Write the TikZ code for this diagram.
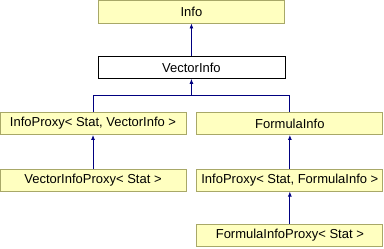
\documentclass[tikz,border=0pt]{standalone}
\usepackage{fontspec}
\setmainfont{Liberation Sans}
\usetikzlibrary{positioning,arrows.meta,calc}
\definecolor{classFill}{HTML}{FFFFC0}
\definecolor{classLine}{HTML}{A8A868}
\definecolor{edgeBlue}{HTML}{000080}
\tikzset{
    classbox/.style={draw=classLine,fill=classFill,line width=0.9pt,
        minimum width=6.54cm,minimum height=0.78cm,inner sep=0pt,
        align=center,font=\fontsize{13}{15}\selectfont},
    rootbox/.style={classbox,draw=black,fill=white,line width=0.7pt},
    inherit/.style={-{Latex[length=5pt,width=4pt]},draw=edgeBlue,line width=0.8pt}
}
\begin{document}
\begin{tikzpicture}
        \useasboundingbox (0,0) rectangle (13.50,-8.72);
        % base classes
        \node[classbox,minimum width=6.57cm] (info) at (6.73,-0.42) {Info};
        \node[rootbox,minimum width=6.57cm] (vec) at (6.73,-2.37) {VectorInfo};
        % left column
        \node[classbox] (ipvec) at (3.27,-4.34) {InfoProxy< Stat, VectorInfo >};
        \node[classbox] (vecproxy) at (3.27,-6.33) {VectorInfoProxy< Stat >};
        % right column
        \node[classbox] (formula) at (10.19,-4.34) {FormulaInfo};
        \node[classbox] (ipform) at (10.19,-6.33) {InfoProxy< Stat, FormulaInfo >};
        \node[classbox] (formproxy) at (10.19,-8.28) {FormulaInfoProxy< Stat >};

        \draw[inherit] (vec.north) -- (info.south);
        % two children share one bar under VectorInfo
        \coordinate (split) at (6.73,-3.37);
        \draw[draw=edgeBlue,line width=0.8pt] (ipvec.north) |- (split);
        \draw[draw=edgeBlue,line width=0.8pt] (formula.north) |- (split);
        \draw[inherit] (split) -- (vec.south);
        \draw[inherit] (vecproxy.north) -- (ipvec.south);
        \draw[inherit] (ipform.north) -- (formula.south);
        \draw[inherit] (formproxy.north) -- (ipform.south);
    \end{tikzpicture}
\end{document}
